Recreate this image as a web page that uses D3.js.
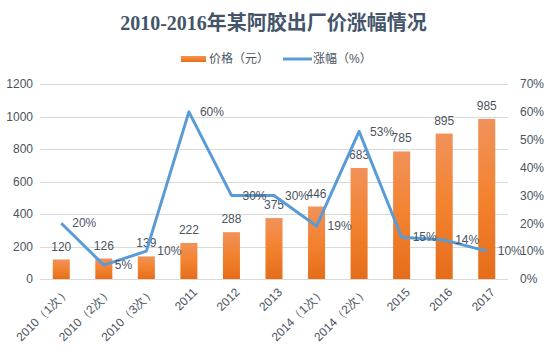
<!DOCTYPE html>
<html>
<head>
<meta charset="utf-8">
<script src="https://cdn.jsdelivr.net/npm/d3@7"></script>
<style>
  body { margin: 0; background: #fff; }
  svg { display: block; font-family: "Liberation Sans", "Noto Sans CJK SC", sans-serif; }
</style>
</head>
<body>
<svg id="chart" width="547" height="352"></svg>
<script>
// chart data
const categories = ["2010（1次）", "2010（2次）", "2010（3次）", "2011", "2012", "2013",
                    "2014（1次）", "2014（2次）", "2015", "2016", "2017"];
const prices = [120, 126, 139, 222, 288, 375, 446, 683, 785, 895, 985];
const growth = [20, 5, 10, 60, 30, 30, 19, 53, 15, 14, 10];
const priceTicks = [0, 200, 400, 600, 800, 1000, 1200];
const growthTicks = [0, 10, 20, 30, 40, 50, 60, 70];

const width = 547, height = 352;
const margin = { left: 40, right: 39, top: 84, bottom: 73 };
const svg = d3.select("#chart");
const textColor = "#4b5461";

const x = d3.scaleBand()
    .domain(categories)
    .range([margin.left, width - margin.right])
    .paddingInner(0.6)
    .paddingOuter(0.3);

const yLeft = d3.scaleLinear().domain([0, 1200]).range([height - margin.bottom, margin.top]);
const yRight = d3.scaleLinear().domain([0, 70]).range([height - margin.bottom, margin.top]);

// gradient for bars
const grad = svg.append("defs").append("linearGradient")
    .attr("id", "barGrad")
    .attr("x1", "0%").attr("x2", "0%").attr("y1", "0%").attr("y2", "100%");
grad.selectAll("stop")
    .data([
        { offset: "0%", color: "#f1925a" },
        { offset: "50%", color: "#f3822f" },
        { offset: "100%", color: "#e56d1a" }
    ])
    .enter().append("stop")
    .attr("offset", d => d.offset)
    .attr("stop-color", d => d.color);

// title
svg.append("text")
    .attr("x", width / 2)
    .attr("y", 30)
    .attr("text-anchor", "middle")
    .style("font-family", "'Liberation Serif', 'Noto Sans CJK SC', serif")
    .style("font-size", "20px")
    .style("font-weight", "bold")
    .attr("fill", "#44546a")
    .text("2010-2016年某阿胶出厂价涨幅情况");

// legend
const legend = svg.append("g").attr("transform", "translate(0, 59)");
legend.append("rect")
    .attr("x", 181).attr("y", -3).attr("width", 25).attr("height", 6)
    .attr("fill", "url(#barGrad)");
legend.append("text")
    .attr("x", 209).attr("y", 0).attr("dy", "0.35em")
    .style("font-size", "12px").attr("fill", textColor)
    .text("价格（元）");
legend.append("line")
    .attr("x1", 283).attr("x2", 312).attr("y1", 0).attr("y2", 0)
    .attr("stroke", "#5b9bd5").attr("stroke-width", 3);
legend.append("text")
    .attr("x", 313).attr("y", 0).attr("dy", "0.35em")
    .style("font-size", "12px").attr("fill", textColor)
    .text("涨幅（%）");

// gridlines
svg.append("g")
    .selectAll("line")
    .data(priceTicks)
    .join("line")
    .attr("x1", margin.left)
    .attr("x2", width - margin.right)
    .attr("y1", d => Math.round(yLeft(d)) + 0.5)
    .attr("y2", d => Math.round(yLeft(d)) + 0.5)
    .attr("stroke", "#d9d9d9");

// left axis
const leftAxis = svg.append("g")
    .attr("transform", `translate(${margin.left - 7},0)`)
    .call(d3.axisLeft(yLeft).tickValues(priceTicks).tickSize(0).tickPadding(0)
        .tickFormat(d3.format("d")));
leftAxis.select(".domain").remove();
leftAxis.selectAll("text").style("font-size", "12px").attr("fill", textColor);

// right axis
const rightAxis = svg.append("g")
    .attr("transform", `translate(${width - margin.right + 12},0)`)
    .call(d3.axisRight(yRight).tickValues(growthTicks).tickSize(0).tickPadding(0)
        .tickFormat(d => d + "%"));
rightAxis.select(".domain").remove();
rightAxis.selectAll("text").style("font-size", "12px").attr("fill", textColor);

// bottom axis labels
const bottomAxis = svg.append("g")
    .attr("transform", `translate(0,${height - margin.bottom})`)
    .call(d3.axisBottom(x).tickSize(0).tickPadding(0));
bottomAxis.select(".domain").remove();
bottomAxis.selectAll("text")
    .style("font-size", "12px")
    .attr("fill", textColor)
    .attr("text-anchor", "end")
    .attr("transform", "translate(6,11) rotate(-45)")
    .attr("dy", "0.35em");

// bars
svg.append("g")
    .selectAll("rect")
    .data(prices)
    .join("rect")
    .attr("x", (d, i) => x(categories[i]))
    .attr("width", x.bandwidth())
    .attr("y", d => yLeft(d))
    .attr("height", d => yLeft(0) - yLeft(d))
    .attr("fill", "url(#barGrad)");

// bar labels
svg.append("g")
    .selectAll("text")
    .data(prices)
    .join("text")
    .attr("x", (d, i) => x(categories[i]) + x.bandwidth() / 2)
    .attr("y", d => yLeft(d) - 9)
    .attr("text-anchor", "middle")
    .style("font-size", "12px")
    .attr("fill", textColor)
    .text(d => d);

// line
const cx = i => x(categories[i]) + x.bandwidth() / 2;
const line = d3.line()
    .x((d, i) => cx(i))
    .y(d => yRight(d));
svg.append("path")
    .datum(growth)
    .attr("d", line)
    .attr("fill", "none")
    .attr("stroke", "#5b9bd5")
    .attr("stroke-width", 3)
    .attr("stroke-linejoin", "round");

// line labels
svg.append("g")
    .selectAll("text")
    .data(growth)
    .join("text")
    .attr("x", (d, i) => cx(i) + 11)
    .attr("y", d => yRight(d))
    .attr("dy", "0.35em")
    .style("font-size", "12px")
    .attr("fill", textColor)
    .text(d => d + "%");
</script>
</body>
</html>
